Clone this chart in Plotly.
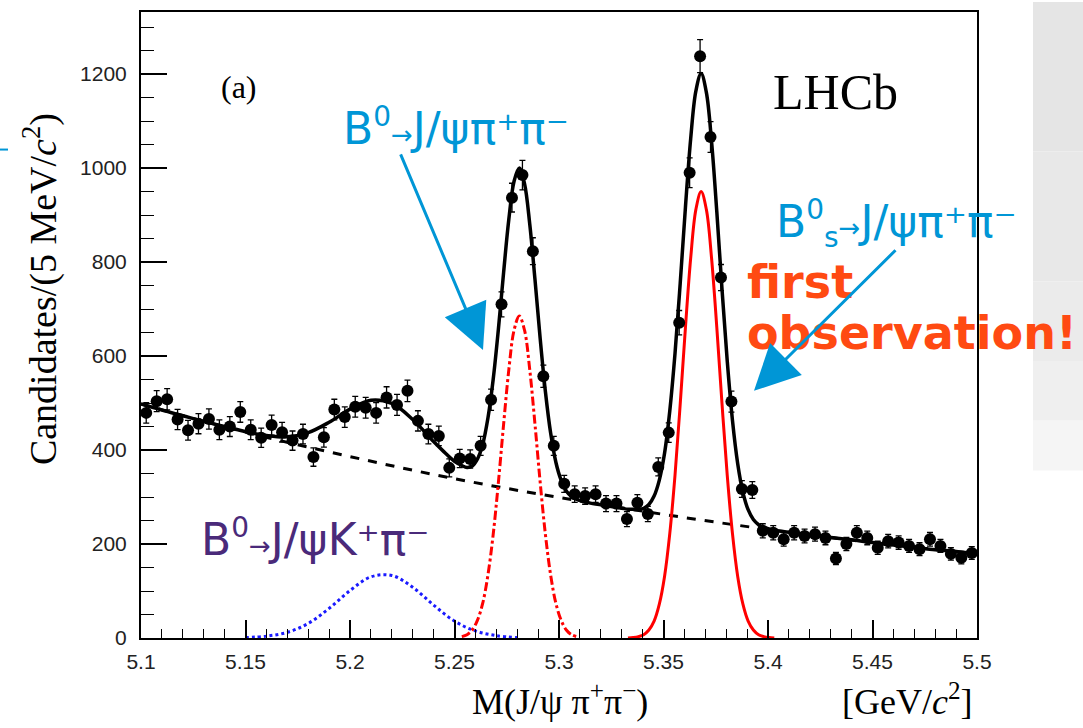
import plotly.graph_objects as go

# ---------------- data ----------------
mass_bins = [5.1025, 5.1075, 5.1125, 5.1175, 5.1225, 5.1275, 5.1325, 5.1375, 5.1425, 5.1475,
             5.1525, 5.1575, 5.1625, 5.1675, 5.1725, 5.1775, 5.1825, 5.1875, 5.1925, 5.1975,
             5.2025, 5.2075, 5.2125, 5.2175, 5.2225, 5.2275, 5.2325, 5.2375, 5.2425, 5.2475,
             5.2525, 5.2575, 5.2625, 5.2675, 5.2725, 5.2775, 5.2825, 5.2875, 5.2925, 5.2975,
             5.3025, 5.3075, 5.3125, 5.3175, 5.3225, 5.3275, 5.3325, 5.3375, 5.3425, 5.3475,
             5.3525, 5.3575, 5.3625, 5.3675, 5.3725, 5.3775, 5.3825, 5.3875, 5.3925, 5.3975,
             5.4025, 5.4075, 5.4125, 5.4175, 5.4225, 5.4275, 5.4325, 5.4375, 5.4425, 5.4475,
             5.4525, 5.4575, 5.4625, 5.4675, 5.4725, 5.4775, 5.4825, 5.4875, 5.4925, 5.4975]

candidates = [479, 504, 508, 465, 442, 456, 466, 443, 450, 481,
              443, 426, 453, 438, 420, 434, 385, 427, 486, 470,
              492, 490, 479, 512, 496, 526, 462, 434, 430, 362,
              382, 381, 409, 507, 710, 937, 985, 823, 557, 409,
              328, 306, 302, 306, 286, 286, 253, 288, 264, 364,
              437, 671, 990, 1238, 1066, 767, 503, 317, 315, 228,
              224, 210, 224, 217, 221, 213, 169, 200, 224, 213,
              192, 206, 203, 196, 189, 210, 196, 179, 171, 181]

candidate_err = [21.9, 22.4, 22.5, 21.6, 21.0, 21.4, 21.6, 21.0, 21.2, 21.9,
                 21.0, 20.6, 21.3, 20.9, 20.5, 20.8, 19.6, 20.7, 22.0, 21.7,
                 22.2, 22.1, 21.9, 22.6, 22.3, 22.9, 21.5, 20.8, 20.7, 19.0,
                 19.5, 19.5, 20.2, 22.5, 26.6, 30.6, 31.4, 28.7, 23.6, 20.2,
                 18.1, 17.5, 17.4, 17.5, 16.9, 16.9, 15.9, 17.0, 16.2, 19.1,
                 20.9, 25.9, 31.5, 35.2, 32.6, 27.7, 22.4, 17.8, 17.7, 15.1,
                 15.0, 14.5, 15.0, 14.7, 14.9, 14.6, 13.0, 14.1, 15.0, 14.6,
                 13.9, 14.4, 14.2, 14.0, 13.7, 14.5, 14.0, 13.4, 13.1, 13.5]

# total fit curve
fit_x = [5.100, 5.110, 5.120, 5.130, 5.140, 5.150, 5.160, 5.170, 5.180, 5.190,
         5.200, 5.210, 5.220, 5.230, 5.240, 5.245, 5.250,
         5.2535, 5.2560, 5.2585, 5.2610, 5.2635, 5.2660, 5.2685, 5.2710, 5.2735, 5.2760,
         5.2785, 5.2810, 5.2835, 5.2860, 5.2885, 5.2910, 5.2935, 5.2960, 5.2985, 5.3010,
         5.3035, 5.3060, 5.3085, 5.315, 5.325,
         5.3330, 5.3355, 5.3380, 5.3405, 5.3430, 5.3455, 5.3480, 5.3505, 5.3530, 5.3555,
         5.3580, 5.3605, 5.3630, 5.3655, 5.3680, 5.3705, 5.3730, 5.3755, 5.3780, 5.3805,
         5.3830, 5.3855, 5.3880, 5.3905, 5.3930, 5.3955, 5.3980, 5.4005, 5.4030,
         5.41, 5.42, 5.43, 5.44, 5.45, 5.46, 5.47, 5.48, 5.49, 5.50]
fit_y = [498, 485, 473, 461, 450, 439, 431, 428, 437, 459,
         487, 506, 499, 465, 418, 396, 376,
         367, 363, 366, 381, 412, 468, 550, 657, 778, 891,
         972, 1000, 967, 881, 763, 637, 524, 436, 374, 336,
         313, 301, 295, 287, 280,
         274, 274, 274, 276, 284, 302, 336, 393, 483, 605,
         755, 917, 1062, 1164, 1201, 1161, 1056, 907, 742, 589,
         463, 371, 310, 273, 252, 241, 235, 232, 229,
         225, 219, 214, 209, 203, 198, 193, 188, 184, 179]

# combinatorial background
bkg_x = [5.10, 5.15, 5.20, 5.25, 5.30, 5.35, 5.40, 5.45, 5.50]
bkg_y = [498, 438, 386, 339, 299, 263, 231, 203, 179]

# B0 -> J/psi K+ pi- reflection
refl_x = [5.15, 5.16, 5.17, 5.18, 5.19, 5.20, 5.21, 5.22, 5.23, 5.24, 5.25, 5.26, 5.27, 5.28]
refl_y = [1, 4, 12, 31, 63, 101, 130, 133, 108, 70, 36, 15, 5, 1]

# B0 -> J/psi pi+ pi- signal
b0_x = [5.2535, 5.2560, 5.2585, 5.2610, 5.2635, 5.2660, 5.2685, 5.2710, 5.2735, 5.2760,
        5.2785, 5.2810, 5.2835, 5.2860, 5.2885, 5.2910, 5.2935, 5.2960, 5.2985, 5.3010,
        5.3035, 5.3060, 5.3085]
b0_y = [3, 7, 17, 38, 74, 134, 220, 331, 455, 571,
        655, 685, 655, 571, 455, 331, 220, 134, 74, 38,
        17, 7, 3]

# Bs0 -> J/psi pi+ pi- signal
bs_x = [5.3330, 5.3355, 5.3380, 5.3405, 5.3430, 5.3455, 5.3480, 5.3505, 5.3530, 5.3555,
        5.3580, 5.3605, 5.3630, 5.3655, 5.3680, 5.3705, 5.3730, 5.3755, 5.3780, 5.3805,
        5.3830, 5.3855, 5.3880, 5.3905, 5.3930, 5.3955, 5.3980, 5.4005, 5.4030]
bs_y = [0, 1, 3, 7, 17, 36, 72, 131, 222, 346,
        498, 661, 808, 912, 950, 912, 808, 661, 498, 346,
        222, 131, 72, 36, 17, 7, 3, 1, 0]

x_tickvals = [5.1, 5.15, 5.2, 5.25, 5.3, 5.35, 5.4, 5.45, 5.5]
x_ticktext = ["5.1", "5.15", "5.2", "5.25", "5.3", "5.35", "5.4", "5.45", "5.5"]
y_tickvals = [0, 200, 400, 600, 800, 1000, 1200]
y_ticktext = ["0", "200", "400", "600", "800", "1000", "1200"]

# ---------------- layout geometry ----------------
W, H = 1083, 728
L, R, T, B = 141, 106, 10, 90
PW, PH = W - L - R, H - T - B


def pxx(x):
    return (x - L) / PW


def pxy(y):
    return (H - B - y) / PH


CYAN = "#0096d6"
PURPLE = "#4a2a7a"
ORANGE = "#ff4a12"
SERIF = "Liberation Serif"
SANS = "DejaVu Sans"

fig = go.Figure()

fig.add_trace(go.Scatter(x=bkg_x, y=bkg_y, mode="lines", line=dict(color="black", width=3, dash="dash", shape="spline"),
                         hoverinfo="skip"))
fig.add_trace(go.Scatter(x=refl_x, y=refl_y, mode="lines", line=dict(color="#1a1aff", width=3, dash="dot", shape="spline"),
                         hoverinfo="skip"))
fig.add_trace(go.Scatter(x=b0_x, y=b0_y, mode="lines", line=dict(color="#ff0000", width=3, dash="dashdot", shape="spline"),
                         hoverinfo="skip"))
fig.add_trace(go.Scatter(x=bs_x, y=bs_y, mode="lines", line=dict(color="#ff0000", width=3, shape="spline"),
                         hoverinfo="skip"))
fig.add_trace(go.Scatter(x=fit_x, y=fit_y, mode="lines", line=dict(color="black", width=3.5, shape="spline"),
                         hoverinfo="skip"))
fig.add_trace(go.Scatter(x=mass_bins, y=candidates, mode="markers",
                         marker=dict(color="black", size=12, symbol="circle"),
                         error_y=dict(type="data", array=candidate_err, visible=True, color="black",
                                      thickness=1.3, width=3)))

annotations = []


def text(xp, yp, s, size, color="black", family=SANS, xanchor="center", **kw):
    annotations.append(dict(x=pxx(xp), y=pxy(yp), xref="paper", yref="paper", text=s, showarrow=False,
                            font=dict(size=size, color=color, family=family), xanchor=xanchor,
                            yanchor="middle", **kw))


def arrow(x_tip, y_tip, x_tail, y_tail, color):
    annotations.append(dict(x=pxx(x_tip), y=pxy(y_tip), xref="paper", yref="paper", text="",
                            showarrow=True, ax=x_tail - x_tip, ay=y_tail - y_tip, axref="pixel", ayref="pixel",
                            arrowhead=2, arrowsize=3, arrowwidth=3, arrowcolor=color, standoff=0))


ARR = "<span style='font-size:26px'>→</span>"
ZERO = "<sup><span style='font-size:28px'>0</span></sup>"
text(239, 85, "(a)", 32, family=SERIF)
text(835, 90, "LHCb", 50, family=SERIF)
text(456, 125, "B" + ZERO + ARR + "J/ψπ⁺π⁻", 44, color=CYAN)
text(896, 222, "B" + ZERO + "<sub><span style='font-size:28px'>s</span></sub>" + ARR + "J/ψπ⁺π⁻", 44, color=CYAN)
text(745, 281, "<b>first</b>", 46, color=ORANGE, xanchor="left")
text(745, 332, "<b>observation!</b>", 46, color=ORANGE, xanchor="left")
text(315, 538, "B" + ZERO + ARR + "J/ψK⁺π⁻", 44, color=PURPLE)
text(40, 288, "Candidates/(5 MeV/<i>c</i><sup>2</sup>)", 38, family=SERIF, textangle=-90)
text(560, 700, "M(J/ψ π<sup>+</sup>π<sup>−</sup>)", 36, family=SERIF)
text(907, 700, "[GeV/<i>c</i><sup>2</sup>]", 36, family=SERIF)

arrow(483, 349, 400, 152, CYAN)
arrow(754, 390, 897, 248, CYAN)

shapes = []
# light grey slide background at the right edge
greys = [(0, 150, "#e5e5e5"), (150, 280, "#e8e8e8"), (280, 360, "#ebebeb"), (360, 420, "#efefef"), (420, 470, "#f5f5f5")]
for y0, y1, c in greys:
    shapes.append(dict(type="rect", xref="paper", yref="paper", x0=pxx(1033), x1=pxx(1083), y0=pxy(y1), y1=pxy(y0),
                       fillcolor=c, line=dict(width=0), layer="below"))
shapes.append(dict(type="line", xref="paper", yref="paper", x0=pxx(0), x1=pxx(8), y0=pxy(148), y1=pxy(148),
                   line=dict(color=CYAN, width=2)))

fig.update_layout(
    width=W, height=H,
    margin=dict(l=L, r=R, t=T, b=B),
    paper_bgcolor="white", plot_bgcolor="white",
    showlegend=False,
    annotations=annotations,
    shapes=shapes,
    xaxis=dict(range=[5.1, 5.5], tickvals=x_tickvals, ticktext=x_ticktext,
               ticks="inside", ticklen=18, tickwidth=1.5, tickcolor="black",
               minor=dict(ticks="inside", ticklen=9, dtick=0.01, tick0=5.1, tickwidth=1.2, tickcolor="black"),
               showline=True, linecolor="black", linewidth=2, mirror=True, showgrid=False, zeroline=False,
               tickfont=dict(family="Liberation Sans", size=21, color="#222"), ticklabelstandoff=4),
    yaxis=dict(range=[0, 1332], tickvals=y_tickvals, ticktext=y_ticktext,
               ticks="inside", ticklen=26, tickwidth=1.5, tickcolor="black",
               minor=dict(ticks="inside", ticklen=13, dtick=50, tick0=0, tickwidth=1.2, tickcolor="black"),
               showline=True, linecolor="black", linewidth=2, mirror=True, showgrid=False, zeroline=False,
               tickfont=dict(family="Liberation Sans", size=21, color="#222"), ticklabelstandoff=8),
)

fig.write_html("out.html")
